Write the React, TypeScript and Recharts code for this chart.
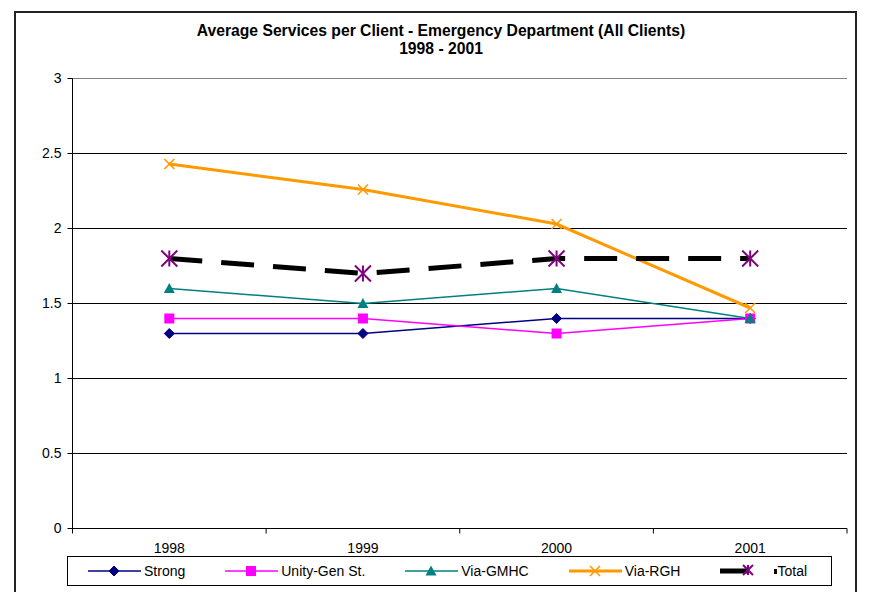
import React from 'react';
import { LineChart, Line, XAxis, YAxis, CartesianGrid, ReferenceLine, Legend } from 'recharts';

const years = ['1998', '1999', '2000', '2001'];
const strong = [1.3, 1.3, 1.4, 1.4];
const unity = [1.4, 1.4, 1.3, 1.4];
const gmhc = [1.6, 1.5, 1.6, 1.4];
const rgh = [2.43, 2.26, 2.03, 1.47];
const total = [1.8, 1.7, 1.8, 1.8];
const yTicks = [0, 0.5, 1, 1.5, 2, 2.5, 3];

const data = years.map((y, i) => ({
  year: y,
  strong: strong[i],
  unity: unity[i],
  gmhc: gmhc[i],
  rgh: rgh[i],
  total: total[i],
}));

const FONT = '"Liberation Sans", Arial, sans-serif';
const W = 865;
const H = 584;
const M = { top: 70.5, right: 26, bottom: 33.5, left: 24.5 };
const Y_W = 40;
const BAND = (W - M.left - Y_W - M.right) / years.length;

const Diamond = (p: any) => {
  const { cx, cy } = p;
  if (cx == null || cy == null) return null;
  return <polygon points={`${cx},${cy - 5} ${cx + 5},${cy} ${cx},${cy + 5} ${cx - 5},${cy}`} fill="#000080" stroke="#000080" strokeWidth={1} />;
};
const Square = (p: any) => {
  const { cx, cy } = p;
  if (cx == null || cy == null) return null;
  return <rect x={cx - 5} y={cy - 5} width={10} height={10} fill="#FF00FF" />;
};
const Triangle = (p: any) => {
  const { cx, cy } = p;
  if (cx == null || cy == null) return null;
  return <polygon points={`${cx},${cy - 5.5} ${cx + 5.5},${cy + 4.5} ${cx - 5.5},${cy + 4.5}`} fill="#008080" />;
};
const XMark = (p: any) => {
  const { cx, cy } = p;
  if (cx == null || cy == null) return null;
  return (
    <g stroke="#FF9900" strokeWidth={1.6}>
      <line x1={cx - 5} y1={cy - 5} x2={cx + 5} y2={cy + 5} />
      <line x1={cx - 5} y1={cy + 5} x2={cx + 5} y2={cy - 5} />
    </g>
  );
};
const Star = (p: any) => {
  const { cx, cy, s = 8 } = p;
  if (cx == null || cy == null) return null;
  return (
    <g stroke="#800080" strokeWidth={2}>
      <line x1={cx - s} y1={cy - s} x2={cx + s} y2={cy + s} />
      <line x1={cx - s} y1={cy + s} x2={cx + s} y2={cy - s} />
      <line x1={cx} y1={cy - s} x2={cx} y2={cy + s} />
    </g>
  );
};

const XTick = (p: any) => {
  const { x, y, payload, index } = p;
  return (
    <g>
      <line x1={x - BAND / 2} y1={y - 5} x2={x - BAND / 2} y2={y} stroke="#000" />
      {index === years.length - 1 && <line x1={x + BAND / 2} y1={y - 5} x2={x + BAND / 2} y2={y} stroke="#000" />}
      <text x={x} y={y + 19} textAnchor="middle" fontSize={14} fontFamily={FONT} fill="#000">
        {payload.value}
      </text>
    </g>
  );
};

const legendItems = [
  { name: 'Strong', color: '#000080', width: 1.5, mark: Diamond },
  { name: 'Unity-Gen St.', color: '#FF00FF', width: 1.5, mark: Square },
  { name: 'Via-GMHC', color: '#008080', width: 1.5, mark: Triangle },
  { name: 'Via-RGH', color: '#FF9900', width: 3, mark: XMark },
];

const LegendBox = () => (
  <div
    style={{
      boxSizing: 'border-box',
      width: 765,
      height: 30,
      border: '1px solid #000',
      display: 'flex',
      alignItems: 'center',
      paddingLeft: 20,
      gap: 40,
      fontFamily: FONT,
      fontSize: 14,
      color: '#000',
      background: '#fff',
    }}
  >
    {legendItems.map((it) => {
      const M2 = it.mark;
      return (
        <div key={it.name} style={{ display: 'flex', alignItems: 'center' }}>
          <svg width={53} height={20} style={{ display: 'block' }}>
            <line x1={0} y1={10} x2={53} y2={10} stroke={it.color} strokeWidth={it.width} />
            <M2 cx={26} cy={10} />
          </svg>
          <span style={{ marginLeft: 3, lineHeight: '20px' }}>{it.name}</span>
        </div>
      );
    })}
    <div style={{ display: 'flex', alignItems: 'center' }}>
      <svg width={57} height={20} style={{ display: 'block' }}>
        <line x1={0} y1={10} x2={29} y2={10} stroke="#000" strokeWidth={5} />
        <Star cx={28} cy={9} s={5} />
        <rect x={54} y={8} width={3} height={5} fill="#000" />
      </svg>
      <span style={{ lineHeight: '20px' }}>Total</span>
    </div>
  </div>
);

export default function App() {
  return (
    <div style={{ position: 'relative', width: W, height: H, overflow: 'hidden', background: '#fff' }}>
      <div
        style={{
          position: 'absolute',
          left: 6,
          top: 3,
          width: 843,
          height: 700,
          border: '2px solid #222',
          boxSizing: 'border-box',
        }}
      />
      <div
        style={{
          position: 'absolute',
          left: 0,
          top: 14,
          width: 866,
          textAlign: 'center',
          fontFamily: FONT,
          fontWeight: 'bold',
          fontSize: 15.7,
          lineHeight: '18px',
          color: '#000',
        }}
      >
        <div>Average Services per Client - Emergency Department (All Clients)</div>
        <div>1998 - 2001</div>
      </div>
      <div style={{ position: 'absolute', left: 0, top: 0 }}>
        <LineChart width={W} height={H} data={data} margin={M}>
          <CartesianGrid horizontal vertical={false} stroke="#000" strokeOpacity={1} />
          <ReferenceLine y={3} stroke="#808080" />
          <XAxis
            dataKey="year"
            stroke="#000"
            tickLine={false}
            tickSize={5}
            tickMargin={0}
            tick={<XTick />}
            height={30}
            interval={0}
            padding={{ left: BAND / 2, right: BAND / 2 }}
          />
          <YAxis
            domain={[0, 3]}
            ticks={yTicks}
            width={Y_W}
            stroke="#000"
            tickSize={5}
            tickMargin={6}
            tick={{ fill: '#000', fontSize: 14, fontFamily: FONT }}
          />
          <YAxis yAxisId="r" orientation="right" width={0} stroke="#808080" tick={false} tickLine={false} domain={[0, 3]} />
          <Line dataKey="strong" name="Strong" stroke="#000080" strokeWidth={1.5} dot={<Diamond />} activeDot={false} isAnimationActive={false} />
          <Line dataKey="unity" name="Unity-Gen St." stroke="#FF00FF" strokeWidth={1.5} dot={<Square />} activeDot={false} isAnimationActive={false} />
          <Line dataKey="gmhc" name="Via-GMHC" stroke="#008080" strokeWidth={1.5} dot={<Triangle />} activeDot={false} isAnimationActive={false} />
          <Line dataKey="rgh" name="Via-RGH" stroke="#FF9900" strokeWidth={3} dot={<XMark />} activeDot={false} isAnimationActive={false} />
          <Line dataKey="total" name="Total" stroke="#000" strokeWidth={5} strokeDasharray="33 19" dot={<Star />} activeDot={false} isAnimationActive={false} />
          <Legend
            layout="horizontal"
            verticalAlign="middle"
            align="center"
            content={<LegendBox />}
            wrapperStyle={{ left: 59, top: 548, width: 765, height: 30 }}
          />
        </LineChart>
      </div>
    </div>
  );
}
